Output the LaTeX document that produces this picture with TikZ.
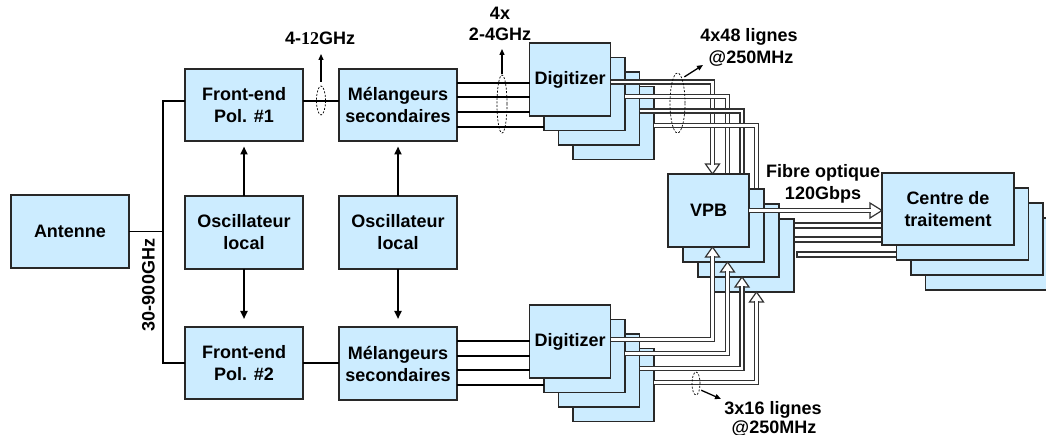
\documentclass[tikz,border=0pt]{standalone}
\usepackage{fontspec}
\setmainfont{Liberation Sans}
\newfontfamily\serifnum{Liberation Serif}
\usetikzlibrary{arrows.meta,calc,shapes.geometric}
\pgfdeclarelayer{low}
\pgfdeclarelayer{mid}
\pgfsetlayers{low,mid,main}
\definecolor{boxblue}{RGB}{204,236,255}
\definecolor{edge}{RGB}{40,40,40}
\definecolor{pipeedge}{RGB}{50,50,50}
\begin{document}
\begin{tikzpicture}[x=1pt,y=-1pt,
  every node/.style={font=\fontsize{18}{22}\selectfont\bfseries},
  box/.style={draw=edge, fill=boxblue, line width=1.3pt, inner sep=0pt, outer sep=0pt,
    anchor=north west, align=center, minimum height=73pt},
  wire/.style={line width=1.5pt, black},
  buswire/.style={line width=2pt, black},
  arr/.style={line width=2pt, black, -{Triangle[length=8pt,width=7pt]}},
  smallarr/.style={line width=1.3pt, black, -{Triangle[length=6pt,width=5pt]}},
  bundle/.style={draw=black, dash pattern=on 2pt off 1.6pt, ellipse, line width=0.7pt, inner sep=0pt, outer sep=0pt},
  pipe/.style={draw=pipeedge, line width=1.3pt, double=white, double distance=2.5pt},
  head/.style={draw=pipeedge, fill=white, line width=1.2pt, line join=miter},
  lbl/.style={anchor=base, inner sep=0pt},
]
\useasboundingbox (0,0) rectangle (1046,435);

% ---------- left part ----------
\node[box, minimum width=118pt] (ant) at (11,195) {Antenne};
\node[box, minimum width=118pt, minimum height=72pt] (fe1) at (185,69) {Front-end\\Pol. \#1};
\node[box, minimum width=118pt] (osc1) at (185,196) {Oscillateur\\local};
\node[box, minimum width=118pt, minimum height=72pt] (fe2) at (185,327) {Front-end\\Pol. \#2};
\node[box, minimum width=118pt, minimum height=72pt] (mel1) at (339,69) {Mélangeurs\\secondaires};
\node[box, minimum width=118pt] (osc2) at (339,196) {Oscillateur\\local};
\node[box, minimum width=118pt] (mel2) at (339,327) {Mélangeurs\\secondaires};

\coordinate (b1) at (163,101);
\coordinate (b2) at (163,363);
\draw[wire] (fe1.west |- b1) -- (b1) -- (b2) -- (fe2.west |- b2);
\draw[wire] (ant.east) -- (ant.east -| b1);
\draw[wire] (fe1.east |- b1) -- (mel1.west |- b1);
\draw[wire] (fe2.east |- b2) -- (mel2.west |- b2);
\node[rotate=90, inner sep=0pt] (lbus) at (148.5,285) {30-900GHz};

\draw[arr, shorten >=5.5pt] (osc1.north) -- (fe1.south);
\draw[arr, shorten >=8pt] (osc1.south) -- (fe2.north);
\draw[arr, shorten >=5.5pt] (osc2.north) -- (mel1.south);
\draw[arr, shorten >=8pt] (osc2.south) -- (mel2.north);

% ---------- digitizer stacks ----------
\begin{pgfonlayer}{low}
\foreach \k in {4,3,2}{
  \node[box, minimum width=81pt] (dt\k) at ({529.5+14.5*(\k-1)},{43+14.5*(\k-1)}) {};
}
\node[box, minimum width=81pt] (dt1) at (529.5,43) {\raisebox{-3pt}{Digitizer}};
\foreach \k in {4,3,2}{
  \node[box, minimum width=81pt] (db\k) at ({529.5+14.5*(\k-1)},{305+14.5*(\k-1)}) {};
}
\node[box, minimum width=81pt] (db1) at (529.5,305) {\raisebox{-3pt}{Digitizer}};
\end{pgfonlayer}

% mixer -> digitizer lines
\coordinate (mt1) at (0,83);
\coordinate (mt2) at (0,97);
\coordinate (mt3) at (0,112);
\coordinate (mt4) at (0,127);
\draw[buswire] (mel1.east |- mt1) -- (dt1.west |- mt1);
\draw[buswire] (mel1.east |- mt2) -- (dt1.west |- mt2);
\draw[buswire] (mel1.east |- mt3) -- (dt1.west |- mt3);
\draw[buswire] (mel1.east |- mt4) -- (dt2.west |- mt4);
\coordinate (mb1) at (0,341);
\coordinate (mb2) at (0,355.5);
\coordinate (mb3) at (0,370);
\coordinate (mb4) at (0,385);
\draw[buswire] (mel2.east |- mb1) -- (db1.west |- mb1);
\draw[buswire] (mel2.east |- mb2) -- (db1.west |- mb2);
\draw[buswire] (mel2.east |- mb3) -- (db1.west |- mb3);
\draw[buswire] (mel2.east |- mb4) -- (db2.west |- mb4);

% ---------- VPB and processing stacks ----------
\foreach \k in {4,3,2}{
  \node[box, minimum width=81pt] (vp\k) at ({668+15*(\k-1)},{174+15*(\k-1)}) {};
}
\node[box, minimum width=81pt] (vp1) at (668,174) {VPB};
\foreach \k in {4,3,2}{
  \node[box, minimum width=132pt, minimum height=72pt] (ct\k) at ({882+14.5*(\k-1)},{173+15*(\k-1)}) {};
}
\node[box, minimum width=132pt, minimum height=72pt] (ct1) at (882,173) {Centre de\\traitement};

% ---------- pipes from top digitizers (behind the VPB stack) ----------
\begin{pgfonlayer}{mid}
\foreach \k/\yy/\xx in {1/82/712.5,2/96.5/727.5,3/111/742,4/125.5/756.5}{
  \coordinate (ty\k) at (0,\yy);
  \coordinate (vx\k) at (\xx,0);
  \coordinate (tt\k) at (vx\k |- vp\k.north);
  \draw[head] ($(tt\k)+(-7,-10)$) -- ($(tt\k)+(7,-10)$) -- (tt\k) -- cycle;
  \draw[pipe] (dt\k.east |- ty\k) -| ($(tt\k)+(0,-9.4)$);
}
\foreach \k/\yy in {2/225.5,3/239.5,4/254.5}{
  \coordinate (cy\k) at (0,\yy);
  \draw[draw=pipeedge, fill=white, line width=1.3pt]
    ($(vp\k.east |- cy\k)+(3,-2.5)$) rectangle ($(ct\k.west |- cy\k)+(0,2.5)$);
}
\end{pgfonlayer}

% ---------- pipes from bottom digitizers (over the VPB stack) ----------
\foreach \k/\yy in {1/339.5,2/353.5,3/368.5,4/382.5}{
  \coordinate (by\k) at (0,\yy);
  \coordinate (tb\k) at (vx\k |- vp\k.south);
  \draw[head] ($(tb\k)+(-7,10)$) -- ($(tb\k)+(7,10)$) -- (tb\k) -- cycle;
  \draw[pipe] (db\k.east |- by\k) -| ($(tb\k)+(0,9.4)$);
}

% fibre link
\coordinate (ft) at (ct1.west |- vp1.east);
\draw[head] ($(ft)+(-12,-7.5)$) -- ($(ft)+(-12,7.5)$) -- (ft) -- cycle;
\draw[pipe] (vp1.east) -- ($(ft)+(-11.4,0)$);
\node[lbl] (lf1) at (823,178) {Fibre optique};
\node[lbl] (lf2) at (823,200) {120Gbps};

% ---------- bundles and labels ----------
\node[bundle, minimum width=9pt, minimum height=29pt] (e1) at (321,100.5) {};
\coordinate (a1) at (321,54);
\draw[smallarr, shorten <=4pt] (e1.north) -- (a1);
\node[lbl] (l1) at (320,45) {4-{\serifnum 12}GHz};

\node[bundle, minimum width=10pt, minimum height=58pt] (e2) at (502,104) {};
\coordinate (a2) at (502,49);
\draw[smallarr, shorten <=1pt] (e2.north) -- (a2);
\node[lbl] (l2a) at (500,20) {4x};
\node[lbl] (l2b) at (500,41) {2-4GHz};

\node[bundle, minimum width=15pt, minimum height=60pt] (e3) at (677.5,103) {};
\coordinate (a3) at (703,65);
\draw[smallarr, shorten <=3pt] (e3.80) -- (a3);
\node[lbl] (l3a) at (749,42) {4x48 lignes};
\node[lbl] (l3b) at (751,64) {@250MHz};

\node[bundle, minimum width=8pt, minimum height=23pt] (e4) at (696,383.5) {};
\coordinate (a4) at (721,399);
\draw[smallarr, shorten <=2pt] (e4.-60) -- (a4);
\node[lbl] (l4a) at (773,414) {3x16 lignes};
\node[lbl] (l4b) at (774,433) {@250MHz};
\end{tikzpicture}
\end{document}
